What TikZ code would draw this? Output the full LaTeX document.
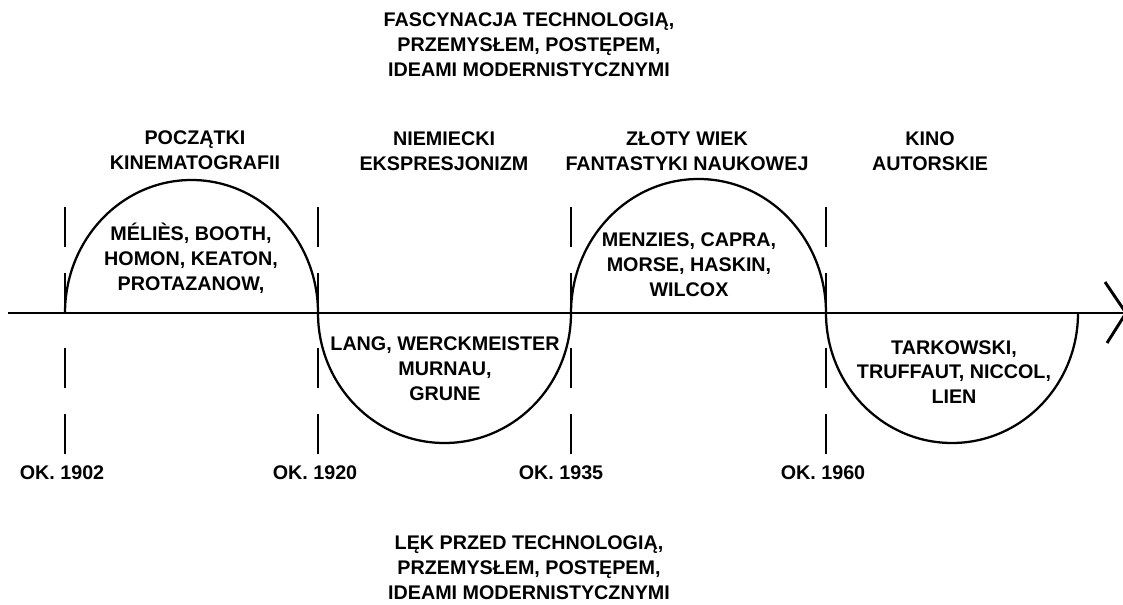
\documentclass[tikz,border=0pt]{standalone}
\usepackage{fontspec}
\setmainfont{Liberation Sans}
\usepackage{tikz}

\begin{document}
\begin{tikzpicture}[x=0.75pt,y=-0.75pt,
                txt/.style={font=\bfseries\fontsize{14.8}{18.6}\selectfont, align=center, inner sep=0pt},
                axis/.style={line width=2.2pt},
                wave/.style={line width=1.7pt},
                period/.style={line width=2.2pt, dash pattern=on 30pt off 19.5pt}]
                \useasboundingbox (0,0) rectangle (1123,605);
                \coordinate (start) at (8,313);
                \coordinate (tip) at (1126,313);
                \coordinate (headup) at (1105,282);
                \coordinate (headdown) at (1107,343);
                \coordinate (t1902) at (65,313);
                \coordinate (t1920) at (318,313);
                \coordinate (t1935) at (571,313);
                \coordinate (t1960) at (826,313);
                \draw[axis] (start) -- (tip);
                \draw[axis] (headup) -- (tip) -- (headdown);
                \draw[wave] (t1902) arc[start angle=180, end angle=360, x radius=126.5, y radius=133];
                \draw[wave] (t1920) arc[start angle=180, end angle=0, x radius=126.5, y radius=130];
                \draw[wave] (t1935) arc[start angle=180, end angle=360, x radius=127.5, y radius=134];
                \draw[wave] (t1960) arc[start angle=180, end angle=0, x radius=126, y radius=130];
                \foreach \t in {t1902,t1920,t1935,t1960}{
                    \draw[period] ([yshift=79.5pt]\t) -- (\t);
                    \draw[period] ([yshift=-26.25pt]\t) -- ([yshift=-106.5pt]\t);
                }
                \foreach \yr/\x in {1902/62, 1920/315, 1935/561, 1960/823}
                    \node[txt] (ok\yr) at (\x,473) {OK. \yr};
                \node[txt] (fascynacja) at (529,45) {FASCYNACJA TECHNOLOGIĄ,\\PRZEMYSŁEM, POSTĘPEM,\\IDEAMI MODERNISTYCZNYMI};
                \node[txt] (lek) at (529,568) {LĘK PRZED TECHNOLOGIĄ,\\PRZEMYSŁEM, POSTĘPEM,\\IDEAMI MODERNISTYCZNYMI};
                \node[txt] (poczatki) at (195,150) {POCZĄTKI\\KINEMATOGRAFII};
                \node[txt] (ekspresjonizm) at (444,151) {NIEMIECKI\\EKSPRESJONIZM};
                \node[txt] (zlotywiek) at (687,151) {ZŁOTY WIEK\\FANTASTYKI NAUKOWEJ};
                \node[txt] (autorskie) at (930,151) {KINO\\AUTORSKIE};
                \node[txt] (melies) at (191,258) {MÉLIÈS, BOOTH,\\HOMON, KEATON,\\PROTAZANOW,};
                \node[txt] (lang) at (445,369) {LANG, WERCKMEISTER\\MURNAU,\\GRUNE};
                \node[txt] (menzies) at (689,265) {MENZIES, CAPRA,\\MORSE, HASKIN,\\WILCOX};
                \node[txt] (tarkowski) at (954,372) {TARKOWSKI,\\TRUFFAUT, NICCOL,\\LIEN};
            \end{tikzpicture}
\end{document}
